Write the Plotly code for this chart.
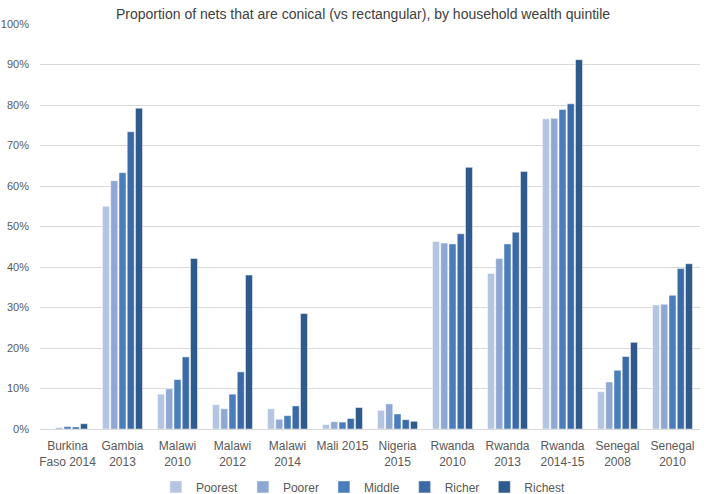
import plotly.graph_objects as go

categories = ["Burkina<br>Faso 2014", "Gambia<br>2013", "Malawi<br>2010", "Malawi<br>2012",
              "Malawi<br>2014", "Mali 2015", "Nigeria<br>2015", "Rwanda<br>2010",
              "Rwanda<br>2013", "Rwanda<br>2014-15", "Senegal<br>2008", "Senegal<br>2010"]

poorest = [0.0, 55.0, 8.6, 6.0, 5.0, 1.1, 4.6, 46.3, 38.4, 76.6, 9.2, 30.6]
poorer  = [0.3, 61.3, 9.9, 5.0, 2.4, 1.8, 6.2, 45.9, 42.1, 76.7, 11.6, 30.8]
middle  = [0.6, 63.3, 12.2, 8.6, 3.3, 1.7, 3.7, 45.7, 45.7, 78.9, 14.5, 33.0]
richer  = [0.5, 73.4, 17.8, 14.1, 5.7, 2.6, 2.3, 48.2, 48.6, 80.3, 17.9, 39.6]
richest = [1.3, 79.2, 42.1, 38.0, 28.5, 5.3, 1.9, 64.6, 63.6, 91.2, 21.4, 40.8]

series = [("Poorest", poorest, "#b4c5e2"),
          ("Poorer", poorer, "#8ea7d3"),
          ("Middle", middle, "#4a7dbc"),
          ("Richer", richer, "#3b6aa6"),
          ("Richest", richest, "#2e5a8e")]

fig = go.Figure()
for name, vals, color in series:
    fig.add_trace(go.Bar(
        name=name, x=categories, y=[v / 100 for v in vals],
        marker=dict(color=color, line=dict(color="rgba(255,255,255,0.6)", width=0.8)),
    ))

font_family = "Liberation Sans, Arial, sans-serif"
fig.update_layout(
    width=709, height=494,
    margin=dict(l=40, r=9, t=24, b=65, autoexpand=False),
    paper_bgcolor="white", plot_bgcolor="white",
    barmode="group", bargap=0.25, bargroupgap=0.15,
    font=dict(family=font_family, size=12, color="#595959"),
    title=dict(text="Proportion of nets that are conical (vs rectangular), by household wealth quintile",
               x=0.512, xanchor="center", y=0.972, yanchor="middle",
               font=dict(size=14, color="#404040", family=font_family)),
    legend=dict(orientation="h", x=0.49, xanchor="center", y=-0.143, yanchor="middle",
                font=dict(size=12, color="#595959"), itemwidth=30, traceorder="normal"),
    showlegend=True,
)
fig.update_yaxes(range=[0, 1.0], dtick=0.1, tickformat=".0%", showgrid=True,
                 gridcolor="#d9d9d9", gridwidth=1, zeroline=False, showline=False,
                 ticks="", ticklabelstandoff=10, tickfont=dict(size=11), automargin=False)
fig.update_xaxes(showline=True, linecolor="#d9d9d9", linewidth=1, ticks="",
                 tickangle=0, tickfont=dict(size=12), ticklabelstandoff=6, automargin=False)

fig.write_html("out.html", config={"displayModeBar": False},
               post_script="document.body.style.margin='0';")
